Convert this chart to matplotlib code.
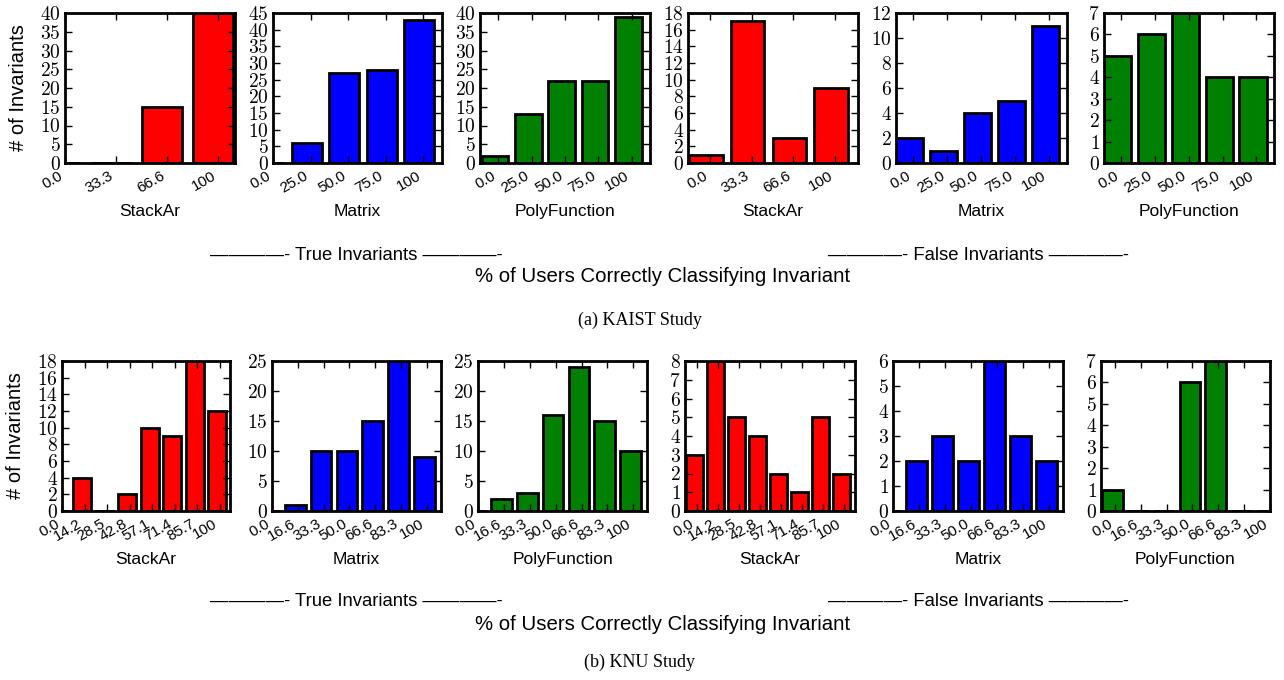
import numpy as np
import matplotlib
matplotlib.use('Agg')
import matplotlib.pyplot as plt
from matplotlib.ticker import MultipleLocator, FuncFormatter

plt.rcParams['mathtext.fontset'] = 'cm'
plt.rcParams['font.family'] = ['Liberation Sans', 'DejaVu Sans']

# x tick labels (% of users correctly classifying)
kaist_stack_labels = ['0.0', '33.3', '66.6', '100']
kaist_five_labels = ['0.0', '25.0', '50.0', '75.0', '100']
knu_stack_labels = ['0.0', '14.2', '28.5', '42.8', '57.1', '71.4', '85.7', '100']
knu_seven_labels = ['0.0', '16.6', '33.3', '50.0', '66.6', '83.3', '100']

# KAIST study counts
kaist_true_stackar = [0, 0, 15, 40]
kaist_true_matrix = [0, 6, 27, 28, 43]
kaist_true_poly = [2, 13, 22, 22, 39]
kaist_false_stackar = [1, 17, 3, 9]
kaist_false_matrix = [2, 1, 4, 5, 11]
kaist_false_poly = [5, 6, 7, 4, 4]

# KNU study counts
knu_true_stackar = [0, 4, 0, 2, 10, 9, 18, 12]
knu_true_matrix = [0, 1, 10, 10, 15, 25, 9]
knu_true_poly = [0, 2, 3, 16, 24, 15, 10]
knu_false_stackar = [3, 8, 5, 4, 2, 1, 5, 2]
knu_false_matrix = [0, 2, 3, 2, 6, 3, 2]
knu_false_poly = [1, 0, 0, 6, 7, 0, 0]

names = ['StackAr', 'Matrix', 'PolyFunction', 'StackAr', 'Matrix', 'PolyFunction']
colors = ['#ff0000', '#0000ff', '#008000', '#ff0000', '#0000ff', '#008000']

W, H = 1284, 680
fig = plt.figure(figsize=(W / 100, H / 100), dpi=100)


def add_ax(x0, x1, y0, y1):
    return fig.add_axes([x0 / W, 1 - y1 / H, (x1 - x0) / W, (y1 - y0) / H])


def panel(ax, labels, vals, color, name, xlim, ymax, ystep):
    idx = np.arange(len(vals))
    ax.bar(idx - 0.5, vals, width=0.8, align='edge', color=color,
           edgecolor='black', linewidth=2)
    ax.set_xticks(idx)
    ax.set_xticklabels(labels, rotation=30, ha='right', fontsize=11)
    ax.set_xlim(*xlim)
    ax.set_ylim(0, ymax)
    ax.yaxis.set_major_locator(MultipleLocator(ystep))
    ax.yaxis.set_major_formatter(FuncFormatter(lambda v, p: '$%d$' % int(round(v))))
    ax.tick_params(direction='in', length=5, width=1, top=True, right=True)
    ax.tick_params(axis='x', pad=4)
    ax.tick_params(axis='y', pad=3, labelsize=14)
    for s in ax.spines.values():
        s.set_linewidth(2)
    ax.set_xlabel(name, fontsize=12.5)
    ax.xaxis.set_label_coords(0.5, -0.325)
    ax.xaxis.label.set_va('center')


# top row: KAIST
top_x = [(65, 235), (273, 442), (480, 650), (688, 858), (896, 1067), (1104, 1274)]
top_xlim = [(0, 3.33), (0, 4.5), (-0.55, 4.55), (-0.53, 3.55), (-0.51, 4.54), (-0.5, 4.52)]
top_ylim = [(40, 5), (45, 5), (40, 5), (18, 2), (12, 2), (7, 1)]
top_labels = [kaist_stack_labels, kaist_five_labels, kaist_five_labels,
              kaist_stack_labels, kaist_five_labels, kaist_five_labels]
top_vals = [kaist_true_stackar, kaist_true_matrix, kaist_true_poly,
            kaist_false_stackar, kaist_false_matrix, kaist_false_poly]
for k in range(6):
    ax = add_ax(top_x[k][0], top_x[k][1], 13, 163)
    panel(ax, top_labels[k], top_vals[k], colors[k], names[k], top_xlim[k], *top_ylim[k])

# bottom row: KNU
bot_x = [(62, 230), (272, 441), (478, 647), (685, 855), (893, 1063), (1101, 1270)]
bot_xlim = [(0, 7.46), (0, 6.55), (0, 6.53), (-0.55, 7.53), (0, 6.53), (-0.54, 6.0)]
bot_ylim = [(18, 2), (25, 5), (25, 5), (8, 1), (6, 1), (7, 1)]
bot_labels = [knu_stack_labels, knu_seven_labels, knu_seven_labels,
              knu_stack_labels, knu_seven_labels, knu_seven_labels]
bot_vals = [knu_true_stackar, knu_true_matrix, knu_true_poly,
            knu_false_stackar, knu_false_matrix, knu_false_poly]
for k in range(6):
    ax = add_ax(bot_x[k][0], bot_x[k][1], 361, 511)
    panel(ax, bot_labels[k], bot_vals[k], colors[k], names[k], bot_xlim[k], *bot_ylim[k])

# group captions
dash = '\u2014' * 4 + '-'
for yc, yl, ys, cap in [(255, 277, 320, '(a) KAIST Study'), (602, 625, 662, '(b) KNU Study')]:
    fig.text(356 / W, 1 - yc / H, dash + ' True Invariants ' + dash,
             ha='center', va='center', fontsize=13.3)
    fig.text(979 / W, 1 - yc / H, dash + ' False Invariants ' + dash,
             ha='center', va='center', fontsize=13.3)
    fig.text(663 / W, 1 - yl / H, '% of Users Correctly Classifying Invariant',
             ha='center', va='center', fontsize=14.7)
    fig.text(640 / W, 1 - ys / H, cap, ha='center', va='center', fontsize=13,
             family=['Liberation Serif', 'DejaVu Serif'])

fig.text(19 / W, 1 - 88 / H, '# of Invariants', rotation=90, ha='center', va='center', fontsize=14.5)
fig.text(16 / W, 1 - 436 / H, '# of Invariants', rotation=90, ha='center', va='center', fontsize=14.5)

fig.savefig('out.png', dpi=100)
